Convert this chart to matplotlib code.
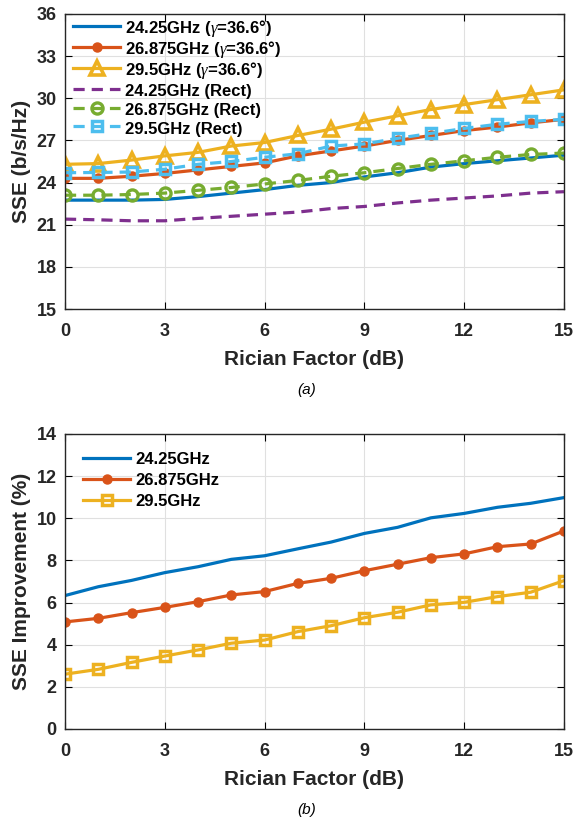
import numpy as np
import matplotlib.pyplot as plt

plt.rcParams['font.family'] = ['Liberation Sans', 'DejaVu Sans']
plt.rcParams['mathtext.fontset'] = 'custom'
plt.rcParams['mathtext.it'] = 'Liberation Serif:italic'

# Rician factor (dB)
k_db = np.arange(0, 16)

# (a) SSE in b/s/Hz
sse_2425_g = [22.75, 22.75, 22.75, 22.8, 23.0, 23.25, 23.5, 23.8, 24.0, 24.4, 24.7, 25.1, 25.35, 25.55, 25.75, 25.95]
sse_26875_g = [24.3, 24.3, 24.45, 24.65, 24.9, 25.15, 25.4, 25.9, 26.25, 26.6, 27.0, 27.35, 27.7, 27.95, 28.25, 28.5]
sse_295_g = [25.3, 25.35, 25.6, 25.9, 26.15, 26.6, 26.85, 27.35, 27.8, 28.3, 28.75, 29.2, 29.55, 29.9, 30.25, 30.6]
sse_2425_r = [21.4, 21.35, 21.28, 21.28, 21.45, 21.6, 21.75, 21.9, 22.15, 22.3, 22.55, 22.75, 22.9, 23.05, 23.25, 23.35]
sse_26875_r = [23.1, 23.1, 23.15, 23.25, 23.45, 23.65, 23.9, 24.15, 24.45, 24.7, 25.0, 25.3, 25.55, 25.8, 26.0, 26.1]
sse_295_r = [24.7, 24.72, 24.75, 24.95, 25.3, 25.5, 25.8, 26.05, 26.6, 26.75, 27.15, 27.5, 27.85, 28.15, 28.35, 28.5]

# (b) SSE improvement in %
imp_2425 = [6.33, 6.75, 7.05, 7.42, 7.7, 8.05, 8.22, 8.55, 8.87, 9.28, 9.57, 10.02, 10.23, 10.52, 10.71, 10.98]
imp_26875 = [5.08, 5.25, 5.52, 5.77, 6.04, 6.36, 6.52, 6.91, 7.15, 7.51, 7.82, 8.13, 8.31, 8.65, 8.78, 9.4]
imp_295 = [2.6, 2.83, 3.16, 3.46, 3.75, 4.07, 4.22, 4.62, 4.9, 5.28, 5.54, 5.89, 6.01, 6.28, 6.49, 7.04]

blue = '#0072BD'
orange = '#D95319'
yellow = '#EDB120'
purple = '#7E2F8E'
green = '#77AC30'
cyan = '#4DBEEE'

fig = plt.figure(figsize=(5.76, 8.21), dpi=100)
ax1 = fig.add_axes([0.1128, 0.6236, 0.8663, 0.3594])
ax2 = fig.add_axes([0.1128, 0.1121, 0.8663, 0.3593])

lw = 2.3
dash = (0, (3.5, 2.2))
ax1.plot(k_db, sse_2425_g, color=blue, lw=lw, label=r'24.25GHz ($\gamma$=36.6°)')
ax1.plot(k_db, sse_26875_g, color=orange, lw=lw, marker='o', ms=6.5,
         label=r'26.875GHz ($\gamma$=36.6°)')
ax1.plot(k_db, sse_295_g, color=yellow, lw=lw, marker='^', ms=10, mfc='none', mew=2.6,
         label=r'29.5GHz ($\gamma$=36.6°)')
ax1.plot(k_db, sse_2425_r, color=purple, lw=lw, ls=dash, label='24.25GHz (Rect)')
ax1.plot(k_db, sse_26875_r, color=green, lw=lw, ls=dash, marker='o', ms=8,
         mfc='none', mew=2.4, label='26.875GHz (Rect)')
ax1.plot(k_db, sse_295_r, color=cyan, lw=lw, ls=dash, marker='s', ms=7.5,
         mfc='none', mew=2.5, label='29.5GHz (Rect)')

ax2.plot(k_db, imp_2425, color=blue, lw=lw, label='24.25GHz')
ax2.plot(k_db, imp_26875, color=orange, lw=lw, marker='o', ms=6.5, label='26.875GHz')
ax2.plot(k_db, imp_295, color=yellow, lw=lw, marker='s', ms=7, mfc='none', mew=2.5,
         label='29.5GHz')

ax1.set_ylim(15, 36)
ax1.set_yticks(np.arange(15, 37, 3))
ax2.set_ylim(0, 14)
ax2.set_yticks(np.arange(0, 15, 2))
ax1.set_ylabel('SSE (b/s/Hz)', fontsize=15, fontweight='bold', color='#262626')
ax2.set_ylabel('SSE Improvement (%)', fontsize=15, fontweight='bold', color='#262626')

for ax in (ax1, ax2):
    ax.set_xlim(0, 15)
    ax.set_xticks(np.arange(0, 16, 3))
    ax.set_xlabel('Rician Factor (dB)', fontsize=15, fontweight='bold', labelpad=7,
                  color='#262626')
    ax.grid(True, color='#e0e0e0', lw=0.8)
    ax.tick_params(direction='in', top=True, right=True, labelsize=13, length=5)
    ax.tick_params(axis='x', pad=10)
    ax.tick_params(axis='y', pad=6)
    for lab in ax.get_xticklabels() + ax.get_yticklabels():
        lab.set_fontweight('bold')
        lab.set_color('#262626')
    for s in ax.spines.values():
        s.set_color('#262626')
        s.set_linewidth(1.0)

# tall handles so every row has the same height, mathtext or not
ax1.legend(loc='upper left', bbox_to_anchor=(0.012, 0.994), frameon=False,
           prop={'weight': 'bold', 'size': 12},
           handlelength=2.8, handleheight=1.36, handletextpad=0.3, labelspacing=0.0,
           borderaxespad=0.0, borderpad=0.15)
ax2.legend(loc='upper left', frameon=False, prop={'weight': 'bold', 'size': 12},
           handlelength=2.8, handletextpad=0.3, labelspacing=0.35,
           borderaxespad=0.5, borderpad=0.6)

fig.text(0.5325, 1 - 390 / 821, '(a)', ha='center', va='center', fontsize=11, style='italic')
fig.text(0.5325, 1 - 810 / 821, '(b)', ha='center', va='center', fontsize=11, style='italic')

fig.savefig('out.png', dpi=100)
